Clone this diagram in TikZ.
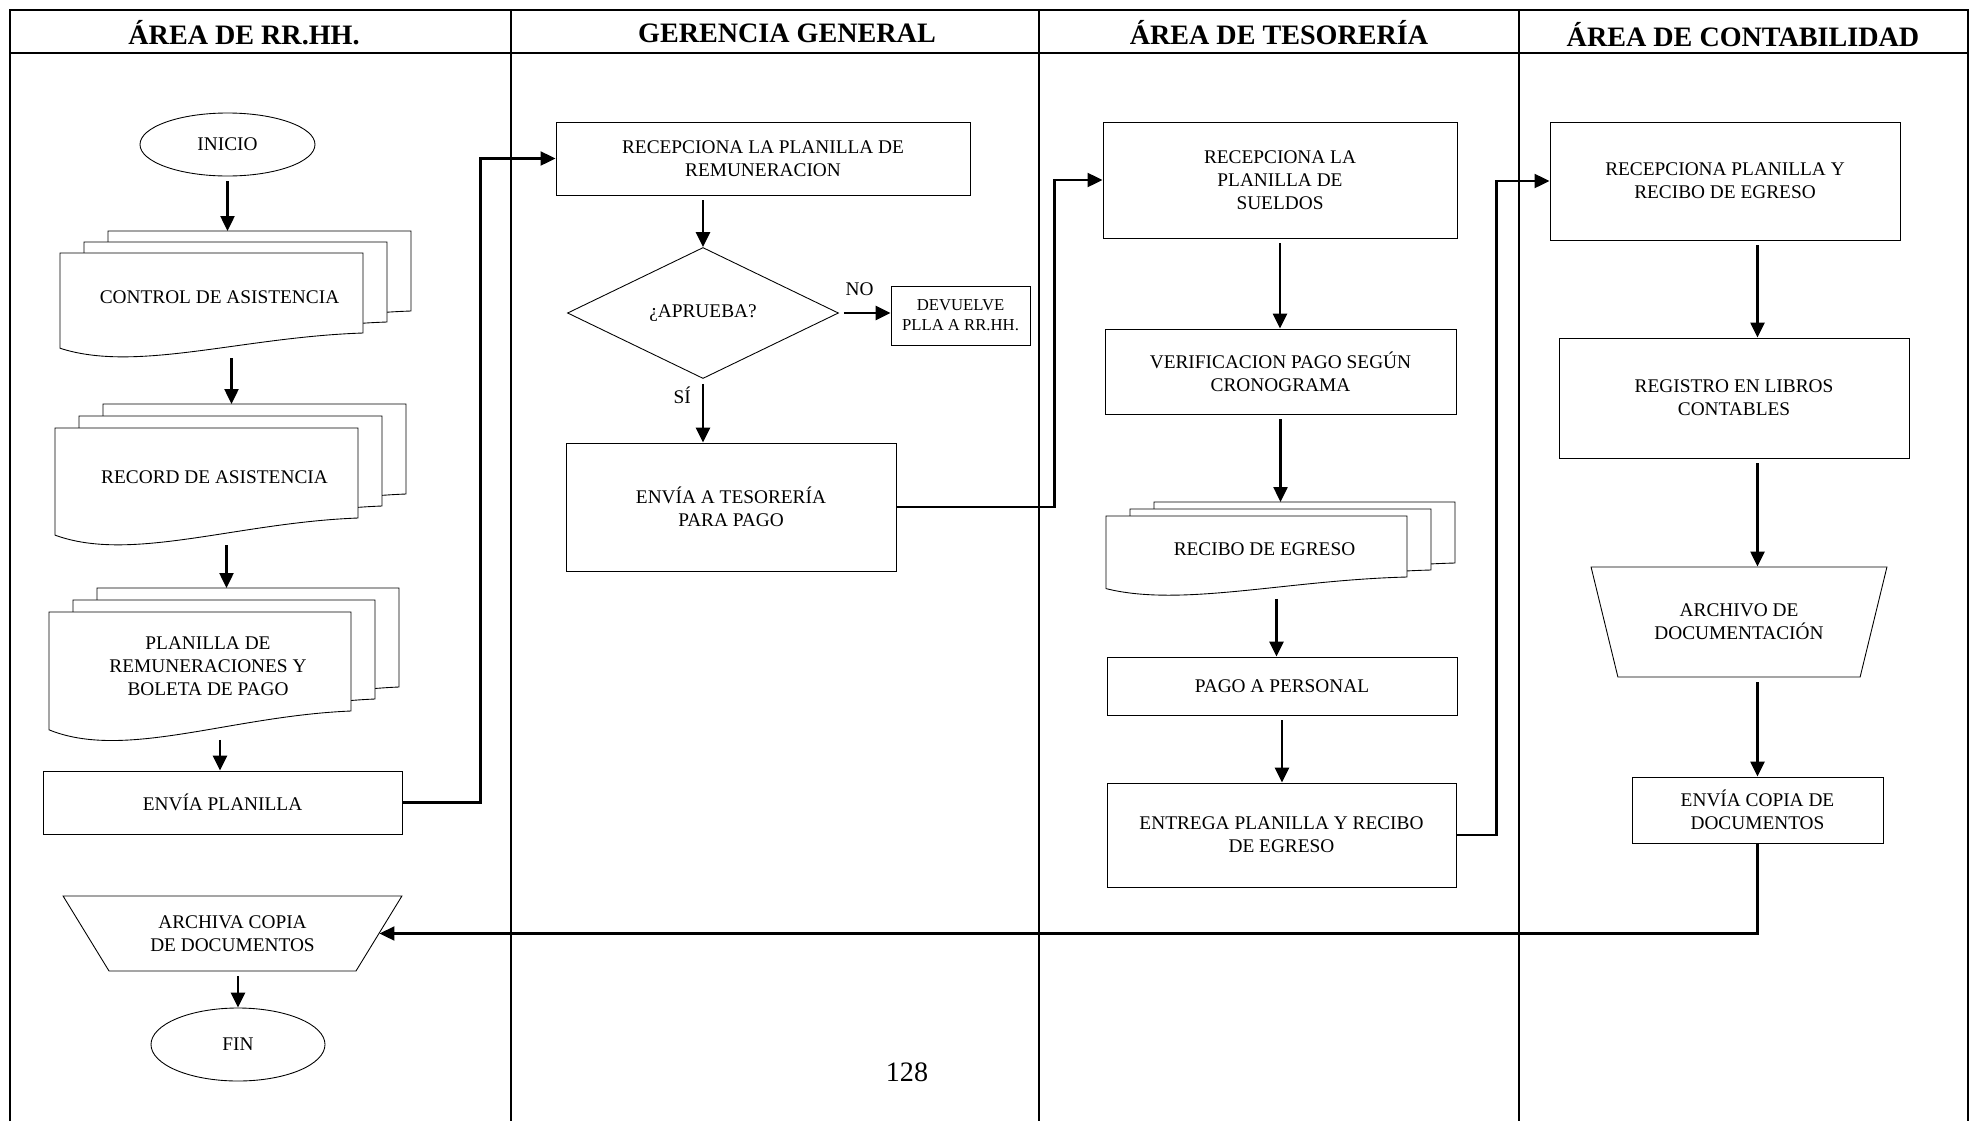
\documentclass[tikz,border=0pt]{standalone}
\usepackage{fontspec}
\setmainfont{Liberation Serif}
\usetikzlibrary{shapes.geometric, arrows.meta}

% pila de tres hojas con borde ondulado
% #1 nombre, #2 esquina sup. izq. de la hoja delantera, #3 ancho, #4 alto,
% #5 desfase vertical entre hojas, #6 texto
\newcommand{\pilahojas}[6]{%
  \begin{scope}[shift={#2}]
    \foreach \k in {2,1,0}{
      \begin{scope}[shift={(24*\k,-#5*\k)}]
        \draw[hoja] (0,0) -- (#3,0) -- (#3,#4)
          .. controls (0.6*#3,1.05*#4) and (0.25*#3,1.5*#4) .. (0,1.19*#4) -- cycle;
      \end{scope}
    }
    \node[texto] (#1) at (0.5*#3+8,0.55*#4) {#6};
    \coordinate (#1-in) at (0.5*#3+20,-2*#5);
    \coordinate (#1-out) at (0.5*#3+20,1.18*#4+6);
  \end{scope}
}

\begin{document}
\begin{tikzpicture}[
    x=0.2mm, y=-0.2mm,
    titulo/.style={font=\fontsize{16}{18}\selectfont\bfseries},
    texto/.style={align=center, font=\fontsize{11}{13}\selectfont},
    proceso/.style={rectangle, draw, line width=0.5pt, texto, inner sep=0pt},
    terminal/.style={ellipse, draw, line width=0.5pt, texto},
    decision/.style={diamond, draw, line width=0.5pt, texto, inner sep=0pt},
    archivo/.style={trapezium, shape border rotate=180, trapezium stretches=true, draw, line width=0.5pt, texto, inner sep=0pt},
    hoja/.style={draw, fill=white, line width=0.5pt},
    flecha/.style={-{Triangle[length=3mm, width=2.8mm]}, line width=1.4pt, shorten <=1mm},
    enlace/.style={-{Triangle[length=3mm, width=2.8mm]}, line width=1.2pt},
    carril/.style={line width=0.8pt},
]
    \useasboundingbox (0,0) rectangle (1975,1121);

    % carriles
    \draw[carril] (10,1121) -- (10,10) -- (1968,10) -- (1968,1121);
    \draw[carril] (10,53) -- (1968,53);
    \foreach \x in {511,1039,1519}
        \draw[carril] (\x,10) -- (\x,1121);

    \node[titulo] (tit-rrhh) at (244,33) {ÁREA DE RR.HH.};
    \node[titulo] (tit-gerencia) at (787,33) {GERENCIA GENERAL};
    \node[titulo] (tit-tesoreria) at (1279,33) {ÁREA DE TESORERÍA};
    \node[titulo] (tit-contab) at (1743,35) {ÁREA DE CONTABILIDAD};

    % Area de RR.HH.
    \node[terminal, minimum width=35mm, minimum height=12.6mm] (inicio) at (227.5,144.5) {INICIO};
    \pilahojas{control}{(60,253)}{303}{80}{11}{CONTROL DE ASISTENCIA}
    \pilahojas{record}{(55,428)}{303}{90}{12}{RECORD DE ASISTENCIA}
    \pilahojas{planilla}{(49,612)}{302}{99}{12}{PLANILLA DE\\REMUNERACIONES Y\\BOLETA DE PAGO}
    \node[proceso, minimum width=71.8mm, minimum height=12.6mm] (envia) at (222.5,802.5) {ENVÍA PLANILLA};
    \node[archivo, trapezium angle=49.5, minimum width=67.8mm, minimum height=15mm] (archiva) at (232.5,933.5) {ARCHIVA COPIA\\DE DOCUMENTOS};
    \node[terminal, minimum width=34.8mm, minimum height=14.6mm] (fin) at (238,1044.5) {FIN};

    \draw[flecha] (inicio.south) -- (inicio.south |- control-in);
    \draw[flecha] (control-out) -- (control-out |- record-in);
    \draw[flecha] (record-out) -- (record-out |- planilla-in);
    \draw[flecha] (planilla-out) -- (planilla-out |- envia.north);
    \draw[flecha] (archiva.south -| fin.north) -- (fin.north);

    % Gerencia general
    \node[proceso, minimum width=82.8mm, minimum height=14.6mm] (recibe) at (763,158.5) {RECEPCIONA LA PLANILLA DE\\REMUNERACION};
    \node[decision, minimum width=54.2mm, minimum height=26.2mm] (aprueba) at (703,313) {¿APRUEBA?};
    \node[proceso, minimum width=27.8mm, minimum height=11.8mm, font=\fontsize{9.5}{11.4}\selectfont] (devuelve) at (960.5,315.5) {DEVUELVE\\PLLA A RR.HH.};
    \node[proceso, minimum width=66mm, minimum height=25.6mm] (tesoreria) at (731,507) {ENVÍA A TESORERÍA\\PARA PAGO};

    \draw[enlace] (envia.east) -- ++(78,0) |- (recibe.west);
    \draw[flecha] (aprueba.north |- recibe.south) -- (aprueba.north);
    \draw[flecha] (aprueba.east) -- node[texto, above=2mm, pos=0.4] (no) {NO} (aprueba.east -| devuelve.west);
    \draw[flecha] (aprueba.south) -- node[texto, left=1mm, pos=0.25] (si) {SÍ} (aprueba.south |- tesoreria.north);

    % Area de tesoreria
    \node[proceso, minimum width=70.8mm, minimum height=23.2mm] (sueldos) at (1280,180) {RECEPCIONA LA\\PLANILLA DE\\SUELDOS};
    \node[proceso, minimum width=70.2mm, minimum height=17mm] (verifica) at (1280.5,371.5) {VERIFICACION PAGO SEGÚN\\CRONOGRAMA};
    \pilahojas{recibo}{(1106,516)}{301}{61}{7}{RECIBO DE EGRESO}
    \node[proceso, minimum width=70mm, minimum height=11.6mm] (pago) at (1282,686) {PAGO A PERSONAL};
    \node[proceso, minimum width=69.8mm, minimum height=20.8mm] (entrega) at (1281.5,835) {ENTREGA PLANILLA Y RECIBO\\DE EGRESO};

    \draw[enlace] (tesoreria.east) -- ++(158,0) |- (sueldos.west);
    \draw[flecha] (sueldos.south) -- (sueldos.south |- verifica.north);
    \draw[flecha] (verifica.south) -- (verifica.south |- recibo-in);
    \draw[flecha] (recibo-out) -- (recibo-out |- pago.north);
    \draw[flecha] (pago.south) -- (pago.south |- entrega.north);

    % Area de contabilidad
    \node[proceso, minimum width=70mm, minimum height=23.6mm] (contab) at (1725,181) {RECEPCIONA PLANILLA Y\\RECIBO DE EGRESO};
    \node[proceso, minimum width=70mm, minimum height=24mm] (registro) at (1734,398) {REGISTRO EN LIBROS\\CONTABLES};
    \node[archivo, trapezium angle=62.4, minimum width=59.2mm, minimum height=22mm] (archivo) at (1739,622) {ARCHIVO DE\\DOCUMENTACIÓN};
    \node[proceso, minimum width=50.2mm, minimum height=13.2mm] (copia) at (1757.5,810) {ENVÍA COPIA DE\\DOCUMENTOS};

    \draw[enlace] (entrega.east) -- ++(40,0) |- (contab.west);
    \draw[flecha] (copia.north |- contab.south) -- (copia.north |- registro.north);
    \draw[flecha] (copia.north |- registro.south) -- (copia.north |- archivo.north);
    \draw[flecha] (copia.north |- archivo.south) -- (copia.north);
    \draw[enlace] (copia.south) |- (archiva.east);

    \node[font=\fontsize{16}{18}\selectfont] (pagina) at (907,1072) {128};
\end{tikzpicture}
\end{document}
